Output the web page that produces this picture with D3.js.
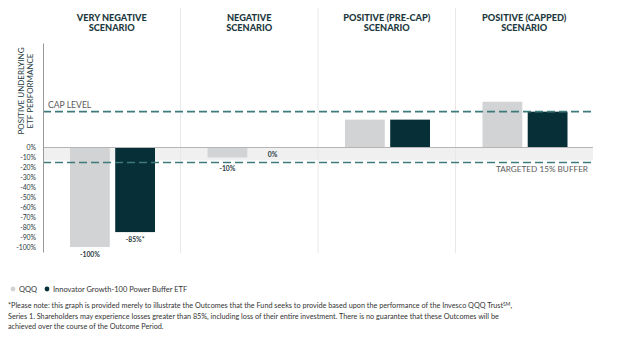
<!DOCTYPE html>
<html>
<head>
<meta charset="utf-8">
<script src="https://cdn.jsdelivr.net/npm/d3@7"></script>
<style>
  body { margin: 0; background: #fff; }
  text { font-family: Lato, "Open Sans", sans-serif; }
</style>
</head>
<body>
<div id="main"></div>
<script>
const ctx = {
    w: 624,
    h: 351,
};

// data
const scenarios = ["VERY NEGATIVE|SCENARIO", "NEGATIVE|SCENARIO", "POSITIVE (PRE-CAP)|SCENARIO", "POSITIVE (CAPPED)|SCENARIO"];
const series = ["QQQ", "Innovator Growth-100 Power Buffer ETF"];
const qqqValues = [-100, -10, 28, 46];
const etfValues = [-85, 0, 28, 36];
const qqqLabels = ["-100%", "-10%", null, null];
const etfLabels = ["-85%*", "0%", null, null];
const yTicks = [0, -10, -20, -30, -40, -50, -60, -70, -80, -90, -100];
const capLevel = 36;
const bufferLevel = -15;
const footnote = [
    "*Please note: this graph is provided merely to illustrate the Outcomes that the Fund seeks to provide based upon the performance of the Invesco QQQ Trust",
    "Series 1. Shareholders may experience losses greater than 85%, including loss of their entire investment. There is no guarantee that these Outcomes will be",
    "achieved over the course of the Outcome Period."
];

const colors = { QQQ: "#d1d3d4", ETF: "#072f38", dash: "#3f7a7b", title: "#1d3940", grid: "#e8e8e8" };

function createChart(svg) {
    const x = d3.scaleBand().domain(scenarios).range([43, 593]);
    const xSub = d3.scaleBand().domain(series).range([27, 112]).paddingInner(0.12);
    const y = d3.scaleLinear().domain([-105, 105]).range([252, 43]);

    // shaded buffer band
    svg.append("rect")
        .attr("x", 43).attr("width", 550)
        .attr("y", y(0)).attr("height", y(bufferLevel) - y(0) - 2)
        .style("fill", "#f0f0f0");

    // panel separators
    svg.selectAll(".sep")
        .data(scenarios.slice(1))
        .enter().append("line")
        .attr("x1", d => x(d)).attr("x2", d => x(d))
        .attr("y1", 8).attr("y2", 253)
        .style("stroke", colors.grid).style("stroke-width", 1);

    // titles
    const titles = svg.selectAll(".title")
        .data(scenarios)
        .enter().append("text")
        .attr("text-anchor", "middle")
        .attr("x", d => x(d) + x.bandwidth() / 2)
        .style("font-weight", 900)
        .style("font-size", "9.2px")
        .style("fill", colors.title);
    titles.selectAll("tspan")
        .data(d => d.split("|").map(t => ({ t, cx: x(d) + x.bandwidth() / 2 })))
        .enter().append("tspan")
        .attr("x", d => d.cx)
        .attr("y", (d, i) => 20.5 + i * 10)
        .text(d => d.t);

    // bars
    const rows = scenarios.map((s, i) => [
        { s, k: series[0], v: qqqValues[i], label: qqqLabels[i], c: colors.QQQ },
        { s, k: series[1], v: etfValues[i], label: etfLabels[i], c: colors.ETF }
    ]).flat();

    svg.selectAll(".bar")
        .data(rows.filter(d => d.v !== 0))
        .enter().append("rect")
        .attr("x", d => x(d.s) + xSub(d.k))
        .attr("width", xSub.bandwidth())
        .attr("y", d => y(Math.max(0, d.v)))
        .attr("height", d => Math.abs(y(d.v) - y(0)))
        .style("fill", d => d.c);

    // value labels sit under the bar, or under the buffer line when the bar ends inside the band
    svg.selectAll(".vlabel")
        .data(rows.filter(d => d.label))
        .enter().append("text")
        .attr("text-anchor", "middle")
        .attr("x", d => x(d.s) + xSub(d.k) + xSub.bandwidth() / 2)
        .attr("y", d => {
            if (d.v === 0) return y(0) + 9.5;
            if (d.v > bufferLevel) return y(bufferLevel) + 8.5;
            return y(d.v) + 9.5;
        })
        .style("font-size", "6.8px")
        .style("font-weight", 700)
        .style("fill", "#2a3a3e")
        .text(d => d.label);

    // zero line
    svg.append("line")
        .attr("x1", 43).attr("x2", 593)
        .attr("y1", y(0)).attr("y2", y(0))
        .style("stroke", "#b5b5b5").style("stroke-width", 1);

    // dashed lines
    [capLevel, bufferLevel].forEach(v => {
        svg.append("line")
            .attr("x1", 43).attr("x2", 593)
            .attr("y1", y(v)).attr("y2", y(v))
            .style("stroke", colors.dash).style("stroke-width", 1.6)
            .style("stroke-dasharray", "8,4");
    });

    svg.append("text")
        .attr("x", 48).attr("y", y(capLevel) - 4)
        .style("font-size", "8.6px").style("fill", "#5a5a5a")
        .text("CAP LEVEL");
    svg.append("text")
        .attr("x", 588).attr("y", y(bufferLevel) + 9.5)
        .attr("text-anchor", "end")
        .style("font-size", "8.2px").style("fill", "#5a5a5a")
        .text("TARGETED 15% BUFFER");

    // y axis
    const axis = svg.append("g")
        .attr("transform", "translate(43,0)")
        .call(d3.axisLeft(y).tickValues(yTicks).tickSize(0).tickPadding(7).tickFormat(d => d + "%"));
    axis.select(".domain").style("stroke", "#999");
    axis.selectAll("text")
        .style("font-size", "6.8px")
        .style("fill", "#2a3a3e")
        .style("font-family", "Lato, sans-serif");

    const ylab = svg.append("text")
        .attr("transform", "translate(0,91) rotate(-90)")
        .attr("text-anchor", "middle")
        .style("font-size", "8px")
        .style("fill", colors.title);
    ylab.append("tspan").attr("x", 0).attr("y", 24).text("POSITIVE UNDERLYING");
    ylab.append("tspan").attr("x", 0).attr("y", 33).text("ETF PERFORMANCE");

    // legend
    const leg = svg.selectAll(".leg")
        .data(series)
        .enter().append("g")
        .attr("transform", (d, i) => `translate(${i === 0 ? 13 : 47},289)`);
    leg.append("circle")
        .attr("r", 2.4)
        .style("fill", (d, i) => i === 0 ? colors.QQQ : colors.ETF);
    leg.append("text")
        .attr("x", 6).attr("y", 2.6)
        .style("font-size", "7.5px").style("fill", "#333")
        .text(d => d);

    // footnote
    const fn = svg.selectAll(".fn")
        .data(footnote)
        .enter().append("text")
        .attr("x", 8)
        .attr("y", (d, i) => 308 + i * 10.5)
        .style("font-size", "7.25px").style("fill", "#333")
        .text(d => d);
    fn.filter((d, i) => i === 0).append("tspan")
        .attr("dy", -2.5).style("font-size", "5px").text("SM");
    fn.filter((d, i) => i === 0).append("tspan")
        .attr("dy", 2.5).text(",");
}

function createViz() {
    let svgEl = d3.select("#main").append("svg");
    svgEl.attr("width", ctx.w);
    svgEl.attr("height", ctx.h);
    createChart(svgEl);
}

createViz();
</script>
</body>
</html>
